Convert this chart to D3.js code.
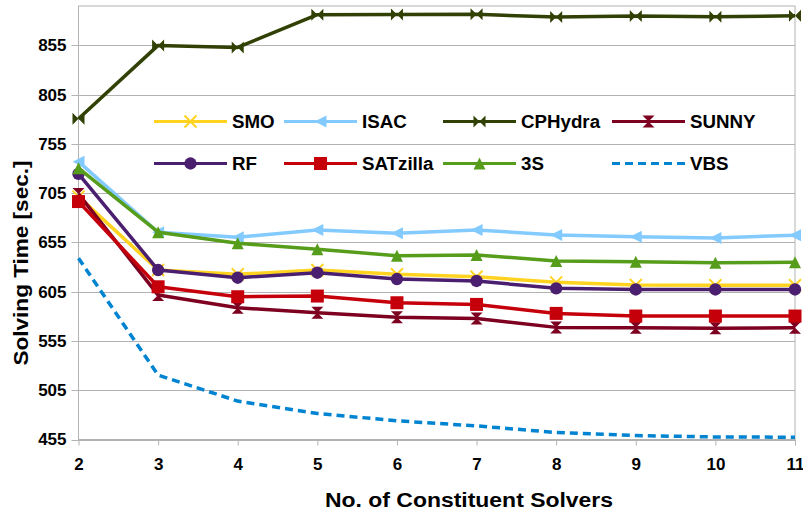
<!DOCTYPE html>
<html lang="en">
<head>
    <meta charset="UTF-8">
    <title>Solving time vs. constituent solvers</title>
    <style>
        body { margin: 0; background: #fff; }
        svg { display: block; }
        text { font-family: "Liberation Sans", Arial, sans-serif; font-weight: bold; fill: #000; }
        .grid line { stroke: #b3b3b3; stroke-width: 1; }
        .axis path, .axis line { stroke: #b3b3b3; }
    </style>
</head>
<body>
    <script src="https://cdn.jsdelivr.net/npm/d3@7/dist/d3.min.js"></script>
    <script>
        var width = 803;
        var height = 516;

        // data
        var solvers = [2, 3, 4, 5, 6, 7, 8, 9, 10, 11];
        var yTicks = [455, 505, 555, 605, 655, 705, 755, 805, 855];

        var smo      = [701.5, 627, 622.7, 627, 622.7, 620.2, 614.5, 611.8, 611.5, 611.5];
        var isac     = [737, 665.4, 660.3, 667.7, 664.3, 667.7, 662.6, 660.9, 659.6, 662.3];
        var cphydra  = [780.5, 855, 853, 886.2, 886.3, 886.5, 883.8, 884.9, 884, 885];
        var sunny    = [704.3, 601.6, 588.7, 583.6, 579, 577.9, 568.8, 568.4, 567.8, 568.4];
        var rf       = [724.6, 627, 619.2, 624.3, 617.9, 615.9, 608.4, 607.3, 607.3, 607.3];
        var satzilla = [696.5, 610, 599.9, 600.6, 593.8, 592.1, 583, 580.3, 580.3, 580.3];
        var threeS   = [730.4, 665.4, 654.2, 648.1, 641.6, 642.3, 636.2, 635.5, 634.5, 634.9];
        var vbs      = [639, 520.4, 494, 481.4, 474, 468.8, 462.1, 459, 457.6, 457.3];

        var seriesNames = ["SMO", "ISAC", "CPHydra", "SUNNY", "RF", "SATzilla", "3S", "VBS"];
        var seriesValues = [smo, isac, cphydra, sunny, rf, satzilla, threeS, vbs];

        var colors = ["#ffd320", "#83caff", "#314004", "#7e0021", "#4b1f6f", "#c5000b", "#579d1c", "#0084d1"];
        var markers = ["cross", "triLeft", "bowtie", "hourglass", "circle", "square", "triUp", "none"];

        var margin = { left: 78.5, right: 795, top: 6, bottom: 439.5 };

        var svg = d3.select("body")
                    .append("svg")
                    .attr("width", width)
                    .attr("height", height);

        var x = d3.scaleLinear().domain([2, 11]).range([margin.left, margin.right]);
        var y = d3.scaleLinear().domain([455, 895]).range([margin.bottom, margin.top]);

        // horizontal grid, running a little past the left axis
        svg.append("g")
            .attr("class", "grid")
            .selectAll("line")
            .data(yTicks)
            .enter()
            .append("line")
            .attr("x1", margin.left - 7)
            .attr("x2", margin.right)
            .attr("y1", function(d) { return Math.round(y(d)) + 0.5; })
            .attr("y2", function(d) { return Math.round(y(d)) + 0.5; });

        // plot frame
        svg.append("rect")
            .attr("x", margin.left)
            .attr("y", margin.top)
            .attr("width", margin.right - margin.left)
            .attr("height", margin.bottom - margin.top)
            .attr("fill", "none")
            .attr("stroke", "#b3b3b3");

        var yAxis = svg.append("g")
            .attr("class", "axis")
            .attr("transform", "translate(" + margin.left + ",0)")
            .call(d3.axisLeft(y).tickValues(yTicks).tickSize(0).tickPadding(12).tickFormat(d3.format("d")));
        yAxis.select(".domain").remove();
        yAxis.selectAll("text").attr("font-size", 17);

        var xAxis = svg.append("g")
            .attr("class", "axis")
            .attr("transform", "translate(0," + margin.bottom + ")")
            .call(d3.axisBottom(x).tickValues(solvers).tickSize(6).tickSizeOuter(0).tickPadding(12).tickFormat(d3.format("d")));
        xAxis.select(".domain").remove();
        xAxis.selectAll("text").attr("font-size", 17);

        // axis titles (the original text is a bit wider than the font)
        svg.append("text")
            .attr("text-anchor", "middle")
            .attr("font-size", 20.5)
            .attr("transform", "translate(469,507) scale(1.12,1)")
            .text("No. of Constituent Solvers");

        svg.append("text")
            .attr("text-anchor", "middle")
            .attr("font-size", 20.5)
            .attr("transform", "translate(28,263) rotate(-90) scale(1.1,1)")
            .text("Solving Time [sec.]");

        function markerPath(type) {
            var s = 6;
            if (type == "cross") return "M" + -s + "," + -s + "L" + s + "," + s + "M" + -s + "," + s + "L" + s + "," + -s;
            if (type == "triLeft") return "M" + -s + ",0L" + s + "," + -s + "L" + s + "," + s + "Z";
            if (type == "triUp") return "M0," + -s + "L" + s + "," + s + "L" + -s + "," + s + "Z";
            if (type == "bowtie") return "M" + -s + "," + -s + "L0,0L" + -s + "," + s + "ZM" + s + "," + -s + "L0,0L" + s + "," + s + "Z";
            if (type == "hourglass") return "M" + -s + "," + -s + "L" + s + "," + -s + "L0,0ZM" + -s + "," + s + "L" + s + "," + s + "L0,0Z";
            if (type == "square") return "M-6.5,-6.5H6.5V6.5H-6.5Z";
            if (type == "circle") return d3.symbol(d3.symbolCircle, 120)();
            return "";
        }

        function drawMarker(g, type, color) {
            if (type == "none") return;
            var p = g.append("path").attr("d", markerPath(type));
            if (type == "cross") {
                p.attr("fill", "none").attr("stroke", color).attr("stroke-width", 2);
            } else {
                p.attr("fill", color);
            }
        }

        var line = d3.line()
            .x(function(d, i) { return x(solvers[i]); })
            .y(function(d) { return y(d); });

        var plot = svg.append("g").attr("class", "series");

        seriesValues.forEach(function(values, k) {
            var g = plot.append("g");
            g.append("path")
                .attr("d", line(values))
                .attr("fill", "none")
                .attr("stroke", colors[k])
                .attr("stroke-width", 3.5)
                .attr("stroke-linejoin", "round")
                .attr("stroke-dasharray", markers[k] == "none" ? "8,5" : null);

            values.forEach(function(v, i) {
                var m = g.append("g")
                    .attr("transform", "translate(" + x(solvers[i]) + "," + y(v) + ")");
                drawMarker(m, markers[k], colors[k]);
            });
        });

        // legend, two rows of four
        var legendCols = [154, 284, 443, 612];
        var legendRows = [121.5, 163.5];

        var legend = svg.append("g").attr("class", "legend");
        seriesNames.forEach(function(name, k) {
            var lx = legendCols[k % 4];
            var ly = legendRows[Math.floor(k / 4)];
            var item = legend.append("g").attr("transform", "translate(" + lx + "," + ly + ")");
            item.append("line")
                .attr("x1", 0)
                .attr("x2", 73)
                .attr("stroke", colors[k])
                .attr("stroke-width", 3)
                .attr("stroke-dasharray", markers[k] == "none" ? "8,5" : null);
            var m = item.append("g").attr("transform", "translate(36.5,0)");
            drawMarker(m, markers[k], colors[k]);
            item.append("text")
                .attr("font-size", 18)
                .attr("dy", "0.35em")
                .attr("transform", "translate(78,0) scale(1.04,1)")
                .text(name);
        });
    </script>
</body>
</html>
